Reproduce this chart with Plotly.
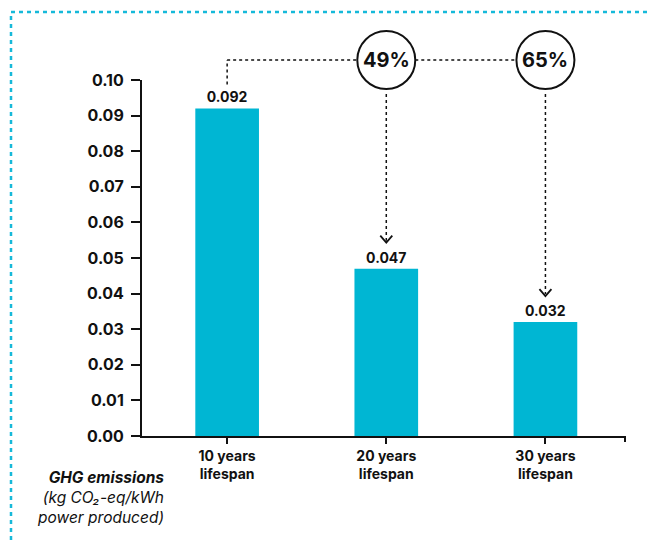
import plotly.graph_objects as go

# Data
categories = ["10 years<br>lifespan", "20 years<br>lifespan", "30 years<br>lifespan"]
emissions = [0.092, 0.047, 0.032]
reductions = ["49%", "65%"]
y_ticks = [0.00, 0.01, 0.02, 0.03, 0.04, 0.05, 0.06, 0.07, 0.08, 0.09, 0.10]

# Layout geometry (pixels)
FIG_W, FIG_H = 651, 543
L, T, W, H = 142, 80, 483, 356
X0, X1 = -0.535, 2.5
YMAX = 0.10

BAR = "#00B6D3"
BORDER = "#16B9D9"
INK = "#111111"
FONT = "Inter"


def xp(px):
    return (px - L) / W


def yp(py):
    return (T + H - py) / H


def x_px(i):
    return L + (i - X0) / (X1 - X0) * W


def y_px(v):
    return T + H - v / YMAX * H


fig = go.Figure()
fig.add_trace(go.Bar(
    x=list(range(len(categories))),
    y=emissions,
    width=0.4,
    marker=dict(color=BAR, line=dict(width=0)),
    text=[f"{v:.3f}" for v in emissions],
    textposition="outside",
    textfont=dict(family=FONT, size=14, color=INK, weight="bold"),
    cliponaxis=False,
    hoverinfo="skip",
))

shapes = []
annotations = []

# Outer dashed frame
frame_x, frame_y = 11, 12
shapes.append(dict(type="path", xref="paper", yref="paper", layer="below",
                   path=f"M {xp(frame_x)},{yp(FIG_H + 5)} L {xp(frame_x)},{yp(frame_y)} L {xp(FIG_W + 5)},{yp(frame_y)}",
                   line=dict(color=BORDER, width=2.5, dash="4px,4px")))

# Reduction call-outs
line_y = 60
r = 29
dash = dict(color=INK, width=1.5, dash="3px,3px")
x_first = x_px(0)
shapes.append(dict(type="line", xref="paper", yref="paper",
                   x0=xp(x_first), y0=yp(y_px(emissions[0]) - 24),
                   x1=xp(x_first), y1=yp(line_y), line=dash))
prev_x = x_first
for k, label in enumerate(reductions):
    i = k + 1
    cx = x_px(i)
    # horizontal connector up to the circle
    shapes.append(dict(type="line", xref="paper", yref="paper",
                       x0=xp(prev_x), y0=yp(line_y), x1=xp(cx - r), y1=yp(line_y), line=dash))
    shapes.append(dict(type="circle", xref="paper", yref="paper",
                       x0=xp(cx - r), x1=xp(cx + r), y0=yp(line_y + r), y1=yp(line_y - r),
                       line=dict(color=INK, width=2)))
    annotations.append(dict(x=xp(cx), y=yp(line_y), xref="paper", yref="paper",
                            xanchor="center", yanchor="middle",
                            text=f"<b>{label}</b>", showarrow=False,
                            font=dict(family=FONT, size=20, color=INK)))
    tip = y_px(emissions[i]) - 26
    shapes.append(dict(type="line", xref="paper", yref="paper",
                       x0=xp(cx), y0=yp(line_y + r + 5), x1=xp(cx), y1=yp(tip - 2), line=dash))
    shapes.append(dict(type="path", xref="paper", yref="paper",
                       path=f"M {xp(cx - 6)},{yp(tip - 7)} L {xp(cx)},{yp(tip)} L {xp(cx + 6)},{yp(tip - 7)}",
                       line=dict(color=INK, width=1.8)))
    prev_x = cx + r

# End tick on the category axis
shapes.append(dict(type="line", xref="paper", yref="paper",
                   x0=1, x1=1, y0=0, y1=yp(T + H + 6), line=dict(color=INK, width=2)))

# Axis title
annotations.append(dict(
    x=xp(166), y=yp(466), xref="paper", yref="paper", xanchor="right", yanchor="top",
    align="right", showarrow=False,
    text="<b><i>GHG emissions</i></b><br><i>(kg CO₂-eq/kWh<br>power produced)</i>",
    font=dict(family=FONT, size=15.5, color=INK),
))

fig.update_layout(
    width=FIG_W, height=FIG_H,
    margin=dict(l=L, r=FIG_W - L - W, t=T, b=FIG_H - T - H),
    paper_bgcolor="white", plot_bgcolor="white",
    showlegend=False,
    shapes=shapes,
    annotations=annotations,
    font=dict(family=FONT, color=INK),
)
fig.update_xaxes(
    range=[X0, X1], tickmode="array", tickvals=list(range(len(categories))),
    ticktext=categories, showgrid=False, zeroline=False,
    showline=True, linecolor=INK, linewidth=2,
    ticks="outside", ticklen=6, tickwidth=2, tickcolor=INK,
    tickfont=dict(family=FONT, size=14, color=INK, weight="bold"),
)
fig.update_yaxes(
    range=[0, YMAX], tickmode="array", tickvals=y_ticks,
    ticktext=[f"{v:.2f}" for v in y_ticks], showgrid=False, zeroline=False,
    showline=True, linecolor=INK, linewidth=2,
    ticks="outside", ticklen=9, tickwidth=2, tickcolor=INK, ticklabelstandoff=4,
    tickfont=dict(family=FONT, size=16, color=INK, weight="bold"),
)

fig.write_html("out.html")
